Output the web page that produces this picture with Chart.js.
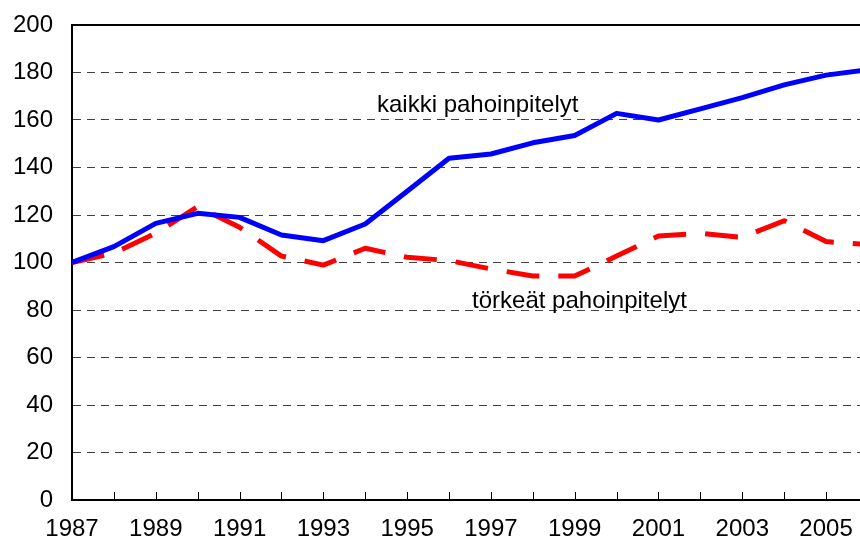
<!DOCTYPE html>
<html lang="fi">
<head>
<meta charset="utf-8">
<title>Pahoinpitelyt 1987-2006</title>
<script src="https://cdn.jsdelivr.net/npm/chart.js@4.4.1/dist/chart.umd.min.js"></script>
<style>
  html, body { margin: 0; padding: 0; background: #fff; }
  #wrap { width: 860px; height: 546px; }
</style>
</head>
<body>
<div id="wrap"><canvas id="chart" width="860" height="546"></canvas></div>
<script>
const vuodet = [1987, 1988, 1989, 1990, 1991, 1992, 1993, 1994, 1995, 1996,
                1997, 1998, 1999, 2000, 2001, 2002, 2003, 2004, 2005, 2006];
const kaikki = [100, 106.7, 116.5, 120.7, 119, 111.6, 109.2, 116.2, 130, 143.9,
                145.7, 150.4, 153.5, 162.8, 160, 164.7, 169.4, 174.8, 178.9, 181.2];
const torkeat = [100, 104, 112.3, 123.5, 114.8, 102.7, 98.9, 106, 102.2, 100.8,
                 97.3, 94.3, 94.3, 102.7, 111.2, 112.3, 110.6, 117.6, 108.8, 107.5];
const yTicks = [0, 20, 40, 60, 80, 100, 120, 140, 160, 180, 200];
const xTicks = vuodet.slice(0, 19); // 1987-2005, 2006 falls just outside the frame

const sarjat = [
    { label: "kaikki pahoinpitelyt", values: kaikki, color: "#0000ff", dash: [] },
    { label: "törkeät pahoinpitelyt", values: torkeat, color: "#ff0000", dash: [33, 19] }
];

// text labels placed in data units
const tekstit = [
    { text: "kaikki pahoinpitelyt", x: 1994.28, y: 163.4 },
    { text: "törkeät pahoinpitelyt", x: 1996.55, y: 80.8 }
];

const fontti = "'Liberation Sans', Arial, sans-serif";

const kehys = {
    id: "kehys",
    afterDatasetsDraw(chart) {
        const { ctx, chartArea, scales } = chart;
        ctx.save();
        // top frame line
        ctx.strokeStyle = "#000";
        ctx.lineWidth = 2;
        ctx.beginPath();
        ctx.moveTo(chartArea.left, chartArea.top);
        ctx.lineTo(chartArea.right, chartArea.top);
        ctx.stroke();
        // x tick marks pointing up into the plot
        ctx.lineWidth = 1;
        vuodet.forEach(v => {
            const px = Math.round(scales.x.getPixelForValue(v)) + 0.5;
            if (px > chartArea.right) return;
            ctx.beginPath();
            ctx.moveTo(px, chartArea.bottom);
            ctx.lineTo(px, chartArea.bottom - 8);
            ctx.stroke();
        });
        // series labels
        ctx.fillStyle = "#000";
        ctx.font = "24px " + fontti;
        ctx.textAlign = "left";
        ctx.textBaseline = "alphabetic";
        tekstit.forEach(t => {
            ctx.fillText(t.text, scales.x.getPixelForValue(t.x), scales.y.getPixelForValue(t.y));
        });
        ctx.restore();
    }
};

document.addEventListener("DOMContentLoaded", () => {
    const ctx = document.getElementById("chart").getContext("2d");

    new Chart(ctx, {
        type: "line",
        data: {
            datasets: sarjat.map(s => ({
                label: s.label,
                data: vuodet.map((v, i) => ({ x: v, y: s.values[i] })),
                borderColor: s.color,
                backgroundColor: s.color,
                borderWidth: 5,
                borderDash: s.dash,
                borderJoinStyle: "round",
                pointRadius: 0,
                tension: 0,
                fill: false
            }))
        },
        options: {
            responsive: false,
            animation: false,
            layout: { padding: { top: 25, right: 0, left: 0, bottom: 0 } },
            plugins: {
                legend: { display: false },
                tooltip: { enabled: false }
            },
            scales: {
                x: {
                    type: "linear",
                    min: 1987,
                    max: 2005.81,
                    afterBuildTicks: scale => { scale.ticks = xTicks.map(v => ({ value: v })); },
                    afterFit: scale => {
                        scale.height = 46;
                        scale.paddingLeft = 0;
                        scale.paddingRight = 0;
                    },
                    grid: { display: true, drawOnChartArea: false, drawTicks: false },
                    border: { display: true, color: "#000", width: 2 },
                    ticks: {
                        autoSkip: false,
                        maxRotation: 0,
                        padding: 15,
                        color: "#000",
                        font: { family: fontti, size: 24 },
                        callback: v => (v % 2 === 1 ? String(v) : "")
                    }
                },
                y: {
                    min: 0,
                    max: 200,
                    afterBuildTicks: scale => { scale.ticks = yTicks.map(v => ({ value: v })); },
                    afterFit: scale => {
                        scale.width = 72;
                        scale.paddingTop = 0;
                        scale.paddingBottom = 0;
                    },
                    grid: {
                        drawTicks: false,
                        lineWidth: 1,
                        color: c => (c.tick && (c.tick.value === 0 || c.tick.value === 200) ? "rgba(0,0,0,0)" : "#404040")
                    },
                    border: { display: true, color: "#000", width: 2, dash: [8, 6] },
                    ticks: {
                        padding: 19,
                        color: "#000",
                        font: { family: fontti, size: 24 }
                    }
                }
            }
        },
        plugins: [kehys]
    });
});
</script>
</body>
</html>
